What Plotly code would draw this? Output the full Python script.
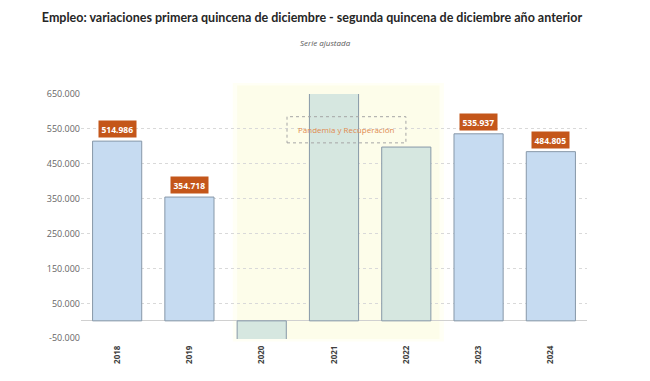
import plotly.graph_objects as go

years = ["2018", "2019", "2020", "2021", "2022", "2023", "2024"]
values = [514986, 354718, -55000, 720000, 498000, 535937, 484805]
labels = ["514.986", "354.718", None, None, None, "535.937", "484.805"]
bar_colors = ["#c6dbf1", "#c6dbf1", "#d6e7e0", "#d6e7e0", "#d6e7e0", "#c6dbf1", "#c6dbf1"]
tick_vals = [-50000, 50000, 150000, 250000, 350000, 450000, 550000, 650000]
tick_text = ["-50.000", "50.000", "150.000", "250.000", "350.000", "450.000", "550.000", "650.000"]

fig = go.Figure()
fig.add_trace(go.Bar(
    x=years, y=values,
    marker=dict(color=bar_colors, line=dict(color="#8798a8", width=1)),
    hoverinfo="skip",
))

# yellow pandemic band (soft edges)
fig.add_shape(type="rect", xref="x", yref="paper", x0=1.60, x1=4.52, y0=-0.01, y1=1.045,
              fillcolor="#fffff5", line=dict(width=0), layer="below")
fig.add_shape(type="rect", xref="x", yref="paper", x0=1.66, x1=4.46, y0=0.0, y1=1.035,
              fillcolor="#fdfdea", line=dict(width=0), layer="below")

# dashed box for annotation
fig.add_shape(type="rect", xref="x", yref="y", x0=2.35, x1=3.995, y0=510000, y1=585000,
              line=dict(color="#a6a6a6", width=1, dash="dot"), fillcolor="rgba(0,0,0,0)")
fig.add_annotation(x=3.17, y=547500, xref="x", yref="y", text="Pandemia y Recuperación",
                   showarrow=False, font=dict(family="Open Sans", size=8, color="#e08a4f"))

for i, (v, lab) in enumerate(zip(values, labels)):
    if lab:
        fig.add_annotation(x=i, y=v, xref="x", yref="y", text="<b>" + lab + "</b>", showarrow=False,
                           yanchor="bottom", yshift=3, bgcolor="#c4561a", borderpad=2.5,
                           font=dict(family="Open Sans", size=8.5, color="white"))

fig.add_annotation(text="<i>Serie ajustada</i>", x=0.483, y=1.212, xref="paper", yref="paper",
                   xanchor="center", yanchor="middle", showarrow=False,
                   font=dict(family="Open Sans", size=8, color="#595959"))

fig.update_layout(
    width=650, height=381,
    margin=dict(l=81, r=63, t=94, b=42),
    paper_bgcolor="white", plot_bgcolor="rgba(0,0,0,0)",
    bargap=0.32,
    showlegend=False,
    title=dict(text="Empleo: variaciones primera quincena de diciembre - segunda quincena de diciembre año anterior",
               x=0.48, xanchor="center", y=0.955, yanchor="middle",
               font=dict(family="Lato", size=12.5, color="#262626", weight="bold")),
)
fig.update_xaxes(type="category", range=[-0.5, 6.5], showline=False, showgrid=False, tickangle=-90,
                 tickfont=dict(family="Open Sans", size=8, color="#404040", weight="bold"),
                 ticks="", ticklabelstandoff=4)
fig.update_yaxes(range=[-52000, 650000], tickvals=tick_vals, ticktext=tick_text,
                 showgrid=True, gridcolor="#d9d9d9", griddash="dot", gridwidth=1,
                 zeroline=True, zerolinecolor="#d0d0d0", zerolinewidth=1,
                 tickfont=dict(family="Open Sans", size=9, color="#666666"),
                 ticks="", showline=False)

fig.write_html("out.html", config={"displayModeBar": False},
               post_script="document.body.style.margin='0';")
